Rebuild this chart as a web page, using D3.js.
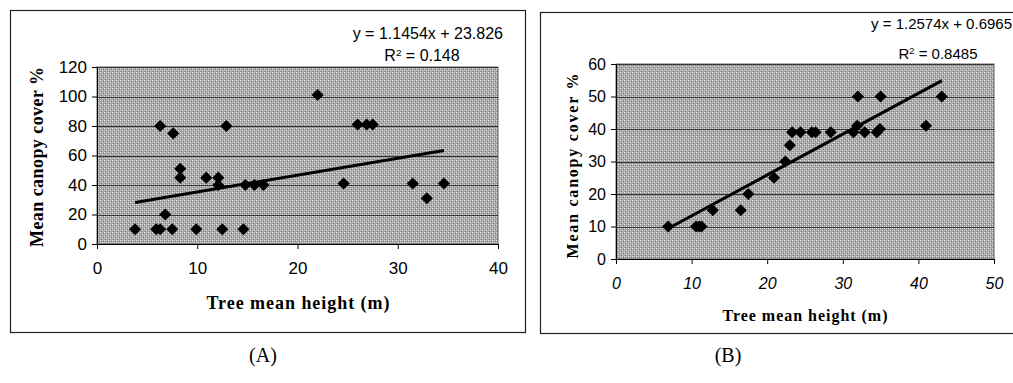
<!DOCTYPE html>
<html><head><meta charset="utf-8">
<script src="https://cdn.jsdelivr.net/npm/d3@7/dist/d3.min.js"></script>
<style>body{margin:0;background:#fff}svg{display:block}</style>
</head><body>
<svg id="c" width="1013" height="383"></svg>
<script>
// ---- Data ----
const aX = [3.8, 5.9, 6.3, 6.3, 6.8, 7.5, 7.6, 8.3, 8.3, 9.9, 10.9, 12.1, 12.1, 12.5, 12.9, 14.6, 14.8, 15.7, 16.6, 22.0, 24.6, 26.0, 26.9, 27.5, 31.5, 32.9, 34.6];
const aY = [10, 10, 10, 80, 20, 10, 75, 51, 45, 10, 45, 45, 40, 10, 80, 10, 40, 40, 40, 101, 41, 81, 81, 81, 41, 31, 41];
const aSlope = 1.1454, aIntercept = 23.826;
const aXTicks = [0, 10, 20, 30, 40];
const aYTicks = [0, 20, 40, 60, 80, 100, 120];
const aEq = "y = 1.1454x + 23.826", aR2 = "0.148";

const bX = [6.9, 10.6, 11.0, 11.3, 12.8, 16.5, 17.5, 20.9, 22.4, 23.0, 23.3, 24.4, 25.9, 26.4, 28.4, 31.4, 31.9, 32.0, 32.9, 34.5, 34.9, 35.0, 41.0, 43.1];
const bY = [10, 10, 10, 10, 15, 15, 20, 25, 30, 35, 39, 39, 39, 39, 39, 39, 41, 50, 39, 39, 40, 50, 41, 50];
const bSlope = 1.2574, bIntercept = 0.6965;
const bXTicks = [0, 10, 20, 30, 40, 50];
const bYTicks = [0, 10, 20, 30, 40, 50, 60];
const bEq = "y = 1.2574x + 0.6965", bR2 = "0.8485";

const xTitle = "Tree mean height (m)";
const yTitle = "Mean canopy cover %";
const panelLabels = ["(A)", "(B)"];

const svg = d3.select("#c");
const defs = svg.append("defs");
const pat = defs.append("pattern").attr("id","hatch").attr("patternUnits","userSpaceOnUse")
  .attr("width",4).attr("height",4);
pat.append("rect").attr("width",4).attr("height",4).attr("fill","#a4a4a4");
[[0,0,"#e6e6e6"],[2,2,"#e6e6e6"],[1,3,"#7c7c7c"],[3,1,"#7c7c7c"],[2,0,"#c8c8c8"],[0,2,"#c8c8c8"]].forEach(([x,y,c])=>
  pat.append("rect").attr("x",x).attr("y",y).attr("width",1).attr("height",1).attr("fill",c));

function panel(cfg){
  const g = svg.append("g");
  g.append("rect").attr("x",cfg.box[0]+0.5).attr("y",cfg.box[1]+0.5)
    .attr("width",cfg.box[2]).attr("height",cfg.box[3])
    .attr("fill","#fff").attr("stroke","#222").attr("stroke-width",1.2);
  const x = d3.scaleLinear().domain(cfg.xDom).range([cfg.pl, cfg.pr]);
  const y = d3.scaleLinear().domain(cfg.yDom).range([cfg.pb, cfg.pt]);
  g.append("rect").attr("x",cfg.pl).attr("y",cfg.pt).attr("width",cfg.pr-cfg.pl).attr("height",cfg.pb-cfg.pt)
    .attr("fill","url(#hatch)").attr("stroke","#666").attr("stroke-width",1);
  g.selectAll(".grid").data(cfg.yTicks.slice(1)).join("line")
    .attr("x1",cfg.pl).attr("x2",cfg.pr).attr("y1",d=>Math.round(y(d))+0.5).attr("y2",d=>Math.round(y(d))+0.5)
    .attr("stroke","#333").attr("stroke-width",1);
  const ax = g.append("g").attr("transform",`translate(0,${cfg.pb})`)
    .call(d3.axisBottom(x).tickValues(cfg.xTicks).tickSize(5).tickPadding(cfg.xPad).tickSizeOuter(0));
  const ay = g.append("g").attr("transform",`translate(${cfg.pl},0)`)
    .call(d3.axisLeft(y).tickValues(cfg.yTicks).tickSize(5).tickPadding(5).tickSizeOuter(0));
  [ax, ay].forEach(a=>{
    a.selectAll("path,line").attr("stroke","#000").attr("stroke-width",1);
    a.selectAll("text").attr("fill","#000").attr("font-family","Liberation Sans, Arial, sans-serif");
  });
  ax.selectAll("text").attr("font-size",cfg.xTickFs);
  ay.selectAll("text").attr("font-size",cfg.yTickFs);
  if (cfg.italicX) ax.selectAll("text").attr("font-style","italic");
  const x0 = d3.min(cfg.xs), x1 = d3.max(cfg.xs);
  g.append("line").attr("x1",x(x0)).attr("y1",y(cfg.slope*x0+cfg.intercept))
    .attr("x2",x(x1)).attr("y2",y(cfg.slope*x1+cfg.intercept))
    .attr("stroke","#000").attr("stroke-width",3);
  const sym = d3.symbol(d3.symbolSquare, 74);
  g.selectAll(".pt").data(cfg.xs.map((v,i)=>[v,cfg.ys[i]])).join("path")
    .attr("d",sym).attr("transform",d=>`translate(${x(d[0])},${y(d[1])}) rotate(45)`)
    .attr("fill","#000");
  g.append("text").attr("x",cfg.xtPos[0]).attr("y",cfg.xtPos[1]).attr("text-anchor","middle")
    .attr("font-family","Liberation Serif, Times New Roman, serif").attr("font-weight","bold")
    .attr("font-size",cfg.titleFs).attr("textLength",cfg.xtLen).attr("lengthAdjust","spacing").text(xTitle);
  g.append("text").attr("transform",`translate(${cfg.ytPos[0]},${cfg.ytPos[1]}) rotate(-90)`).attr("text-anchor","middle")
    .attr("font-family","Liberation Serif, Times New Roman, serif").attr("font-weight","bold")
    .attr("font-size",cfg.titleFs).attr("textLength",cfg.ytLen).attr("lengthAdjust","spacing").text(yTitle);
  g.append("text").attr("x",cfg.eqPos[0]).attr("y",cfg.eqPos[1]).attr("text-anchor","end")
    .attr("font-family","Liberation Sans, Arial, sans-serif").attr("font-size",cfg.eqFs).text(cfg.eq);
  const r = g.append("text").attr("x",cfg.r2Pos[0]).attr("y",cfg.r2Pos[1]).attr("text-anchor","middle")
    .attr("font-family","Liberation Sans, Arial, sans-serif").attr("font-size",cfg.eqFs);
  r.append("tspan").text("R");
  r.append("tspan").attr("dy",-5).attr("font-size",cfg.eqFs*0.62).text("2");
  r.append("tspan").attr("dy",5).text(" = " + cfg.r2);
  svg.append("text").attr("x",cfg.labPos[0]).attr("y",cfg.labPos[1]).attr("text-anchor","middle")
    .attr("font-family","Liberation Serif, Times New Roman, serif").attr("font-size",20).text(cfg.label);
}

panel({box:[10,10,515,322], xDom:[0,40], yDom:[0,120], pl:97, pr:498, pt:67, pb:244,
  xTicks:aXTicks, yTicks:aYTicks, xs:aX, ys:aY, slope:aSlope, intercept:aIntercept,
  xTickFs:17, yTickFs:17, xPad:13, titleFs:18, xtPos:[298,309], xtLen:183, ytPos:[43,157], ytLen:180,
  eq:aEq, r2:aR2, eqPos:[503,39], r2Pos:[422,61], eqFs:16, label:panelLabels[0], labPos:[263,362], italicX:false});

panel({box:[540,12,480,321], xDom:[0,50], yDom:[0,60], pl:616, pr:994, pt:64, pb:259,
  xTicks:bXTicks, yTicks:bYTicks, xs:bX, ys:bY, slope:bSlope, intercept:bIntercept,
  xTickFs:16, yTickFs:16, xPad:14, titleFs:16, xtPos:[805,321], xtLen:165, ytPos:[578,166], ytLen:185,
  eq:bEq, r2:bR2, eqPos:[1012,29], r2Pos:[938,59], eqFs:15, label:panelLabels[1], labPos:[728,362], italicX:true});
</script>
</body></html>
